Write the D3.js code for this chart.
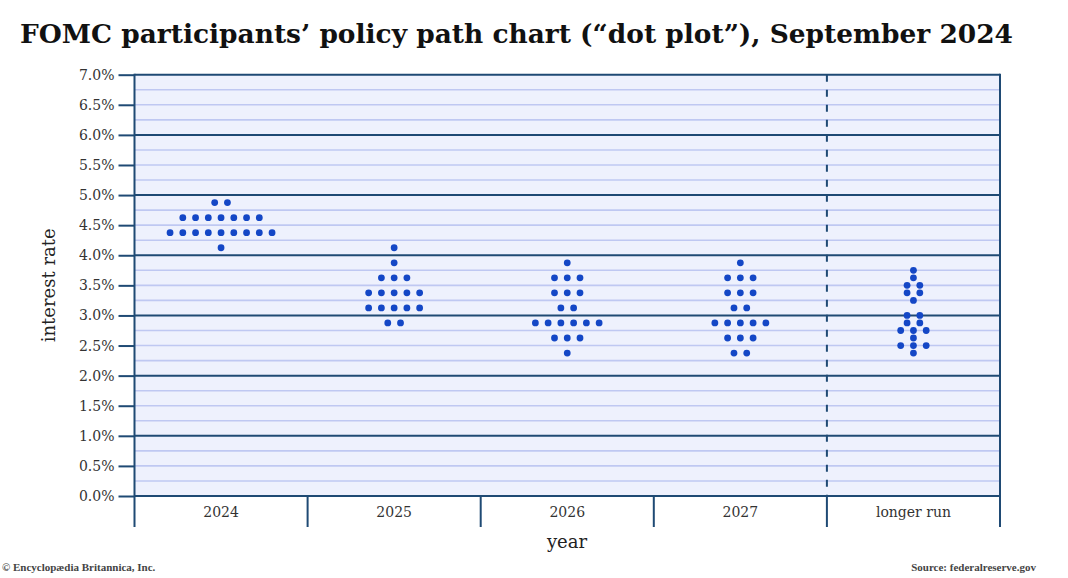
<!DOCTYPE html>
<html>
<head>
<meta charset="utf-8">
<script src="https://cdn.jsdelivr.net/npm/d3@7"></script>
<style>
  html, body { margin: 0; padding: 0; background: #ffffff; }
  svg { display: block; }
</style>
</head>
<body>
<svg id="chart" width="1068" height="578"></svg>
<script>
// ---- data ----
const categories = ["2024", "2025", "2026", "2027", "longer run"];
const yTickValues = [0, 0.5, 1, 1.5, 2, 2.5, 3, 3.5, 4, 4.5, 5, 5.5, 6, 6.5, 7];

// [rate midpoint, number of participants]
const dots2024 = [[4.875, 2], [4.625, 7], [4.375, 9], [4.125, 1]];
const dots2025 = [[4.125, 1], [3.875, 1], [3.625, 3], [3.375, 5], [3.125, 5], [2.875, 2]];
const dots2026 = [[3.875, 1], [3.625, 3], [3.375, 3], [3.125, 2], [2.875, 6], [2.625, 3], [2.375, 1]];
const dots2027 = [[3.875, 1], [3.625, 3], [3.375, 3], [3.125, 2], [2.875, 5], [2.625, 3], [2.375, 2]];
const dotsLongerRun = [[3.75, 1], [3.625, 1], [3.5, 2], [3.375, 2], [3.25, 1], [3.0, 2], [2.875, 2], [2.75, 3], [2.625, 1], [2.5, 3], [2.375, 1]];

const dotSeries = [dots2024, dots2025, dots2026, dots2027, dotsLongerRun];

const titleText = "FOMC participants\u2019 policy path chart (\u201Cdot plot\u201D), September 2024";

(function () {
// ---- layout ----
const svg = d3.select("#chart");
const pL = 134.5, pR = 1000, pT = 74.7, pB = 496, sepBottom = 527;
const dark = "#1f4a74", light = "#bfc8f2", bg = "#eef1fd", dotColor = "#1447c6";
const serif = "'DejaVu Serif', 'Liberation Serif', serif";

const x = d3.scaleBand().domain(categories).range([pL, pR]).padding(0);
const y = d3.scaleLinear().domain([0, 7]).range([pB, pT]);

// title
svg.append("text")
  .attr("x", 20).attr("y", 43)
  .attr("textLength", 993).attr("lengthAdjust", "spacingAndGlyphs")
  .style("font-family", serif).style("font-weight", "bold").style("font-size", "25.5px")
  .attr("fill", "#111")
  .text(titleText);

// background
svg.append("rect")
  .attr("x", pL).attr("y", pT)
  .attr("width", pR - pL).attr("height", pB - pT)
  .attr("fill", bg);

// gridlines every 0.25
const gridVals = d3.range(0, 7.001, 0.25).map(v => +v.toFixed(2));
svg.append("g").selectAll("line")
  .data(gridVals.filter(v => !Number.isInteger(v)))
  .join("line")
  .attr("x1", pL).attr("x2", pR)
  .attr("y1", d => y(d)).attr("y2", d => y(d))
  .attr("stroke", light).attr("stroke-width", 1.6);
svg.append("g").selectAll("line")
  .data(gridVals.filter(v => Number.isInteger(v)))
  .join("line")
  .attr("x1", pL).attr("x2", pR)
  .attr("y1", d => y(d)).attr("y2", d => y(d))
  .attr("stroke", dark).attr("stroke-width", 2);

// dashed separator before "longer run"
const lrX = x("longer run");
svg.append("line")
  .attr("x1", lrX).attr("x2", lrX)
  .attr("y1", pT).attr("y2", pB)
  .attr("stroke", dark).attr("stroke-width", 2)
  .attr("stroke-dasharray", "7,8");

// right border
svg.append("line")
  .attr("x1", pR).attr("x2", pR).attr("y1", pT - 1).attr("y2", sepBottom)
  .attr("stroke", dark).attr("stroke-width", 2);

// category separators below axis
svg.append("g").selectAll("line")
  .data(categories.slice(1))
  .join("line")
  .attr("x1", d => x(d)).attr("x2", d => x(d))
  .attr("y1", pB).attr("y2", sepBottom)
  .attr("stroke", dark).attr("stroke-width", 2);

// left axis
const yAxis = d3.axisLeft(y)
  .tickValues(yTickValues)
  .tickFormat(d => d3.format(".1f")(d) + "%")
  .tickSize(16).tickPadding(4);
const gy = svg.append("g").attr("transform", `translate(${pL},0)`).call(yAxis);
gy.select(".domain").remove();
gy.selectAll(".tick line").attr("stroke", dark).attr("stroke-width", 2);
gy.selectAll(".tick text")
  .style("font-family", serif).style("font-size", "14px").attr("fill", "#333");
svg.append("line")
  .attr("x1", pL).attr("x2", pL).attr("y1", pT - 1).attr("y2", sepBottom)
  .attr("stroke", dark).attr("stroke-width", 2);

// category labels
const xAxis = d3.axisBottom(x).tickSize(0).tickPadding(11);
const gx = svg.append("g").attr("transform", `translate(0,${pB})`).call(xAxis);
gx.select(".domain").remove();
gx.selectAll(".tick text")
  .style("font-family", serif).style("font-size", "14px").attr("fill", "#333");

// dots
const spacing = 12.75;
const points = [];
dotSeries.forEach((series, i) => {
  const cx = x(categories[i]) + x.bandwidth() / 2;
  series.forEach(([rate, n]) => {
    for (let k = 0; k < n; k++) {
      points.push({ x: cx + (k - (n - 1) / 2) * spacing, rate });
    }
  });
});
svg.append("g").selectAll("circle")
  .data(points)
  .join("circle")
  .attr("cx", d => d.x)
  .attr("cy", d => y(d.rate))
  .attr("r", 3.4)
  .attr("fill", dotColor);

// axis titles
svg.append("text")
  .attr("transform", `translate(55,${(pT + pB) / 2}) rotate(-90)`)
  .attr("text-anchor", "middle")
  .style("font-family", serif).style("font-size", "18px").attr("fill", "#222")
  .text("interest rate");
svg.append("text")
  .attr("x", 567).attr("y", 548)
  .attr("text-anchor", "middle")
  .style("font-family", serif).style("font-size", "18px").attr("fill", "#222")
  .text("year");

// footers
const footSerif = "'Liberation Serif', 'DejaVu Serif', serif";
svg.append("text")
  .attr("x", 2).attr("y", 571)
  .style("font-family", footSerif).style("font-size", "11px").style("font-weight", "bold").attr("fill", "#444")
  .text("\u00A9 Encyclop\u00E6dia Britannica, Inc.");
svg.append("text")
  .attr("x", 1036).attr("y", 571).attr("text-anchor", "end")
  .style("font-family", footSerif).style("font-size", "11px").style("font-weight", "bold").attr("fill", "#444")
  .text("Source: federalreserve.gov");
})();
</script>
</body>
</html>
